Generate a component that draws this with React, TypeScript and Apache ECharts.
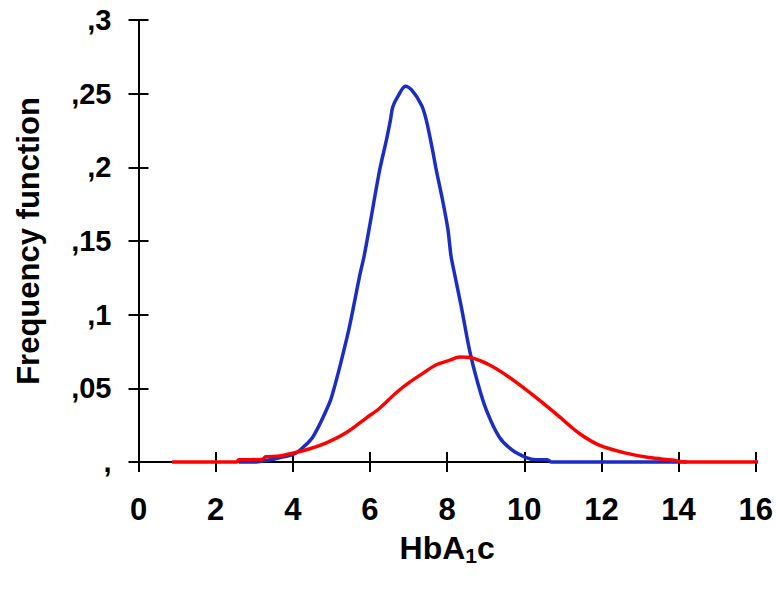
import React, { useEffect, useRef } from "react";
import * as echarts from "echarts";

const xTicks = [0, 2, 4, 6, 8, 10, 12, 14, 16];
const yTickLabels = [",", ",05", ",1", ",15", ",2", ",25", ",3"];

const blueX = [2.6, 3.0, 3.3, 3.67, 4.0, 4.18, 4.52, 4.95, 5.08, 5.26, 5.47, 5.73, 5.85, 5.99, 6.25, 6.43, 6.53, 6.59, 6.72, 6.92, 7.08, 7.34, 7.46, 7.62, 7.72, 7.88, 8.02, 8.1, 8.19, 8.37, 8.58, 8.79, 9.02, 9.35, 9.69, 10.05, 10.3, 10.6, 10.7, 14.2];
const blueY = [0, 0, 0.001, 0.003, 0.005, 0.008, 0.017, 0.04, 0.051, 0.069, 0.092, 0.126, 0.14, 0.16, 0.198, 0.219, 0.232, 0.241, 0.248, 0.255, 0.2525, 0.242, 0.232, 0.212, 0.198, 0.178, 0.158, 0.14, 0.128, 0.105, 0.076, 0.054, 0.035, 0.017, 0.008, 0.003, 0.0015, 0.0015, 0, 0];

const redX = [0.87, 2.55, 2.6, 3.2, 3.3, 3.66, 4.0, 4.44, 4.87, 5.39, 5.91, 6.25, 6.68, 7.02, 7.36, 7.72, 8.06, 8.32, 8.65, 9.09, 9.5, 9.95, 10.39, 10.9, 11.42, 11.94, 12.64, 13.23, 13.83, 14.2, 16.12];
const redY = [0, 0, 0.0015, 0.0017, 0.0035, 0.004, 0.006, 0.009, 0.013, 0.02, 0.03, 0.0365, 0.047, 0.054, 0.06, 0.066, 0.069, 0.0713, 0.0706, 0.066, 0.0595, 0.051, 0.042, 0.031, 0.0195, 0.0115, 0.006, 0.003, 0.0013, 0, 0];

const FONT = "Liberation Sans, Arial, sans-serif";

export default function App() {
  const ref = useRef<HTMLDivElement>(null);
  useEffect(() => {
    if (!ref.current) return;
    const chart = echarts.init(ref.current, null, { renderer: "svg" });
    const axisLineStyle = { color: "#000", width: 2 };
    const baseX = {
      type: "value" as const,
      min: xTicks[0],
      max: xTicks[xTicks.length - 1],
      interval: 2,
      position: "bottom" as const,
      offset: 0,
      splitLine: { show: false },
    };
    const baseY = {
      type: "value" as const,
      min: 0,
      max: 0.3,
      interval: 0.05,
      position: "left" as const,
      offset: 0,
      splitLine: { show: false },
    };
    chart.setOption({
      animation: false,
      backgroundColor: "#fff",
      grid: { left: 138.5, right: 19, top: 20, bottom: 132, containLabel: false },
      xAxis: [
        {
          ...baseX,
          axisLine: { show: true, onZero: false, lineStyle: axisLineStyle },
          axisTick: { show: true, inside: false, length: 10, lineStyle: axisLineStyle },
          axisLabel: {
            show: true,
            margin: 32,
            fontFamily: FONT,
            fontWeight: "bold",
            fontSize: 31,
            color: "#000",
          },
          name: "{a|HbA}{s|1}{a|c}",
          nameLocation: "middle",
          nameGap: 63,
          nameTextStyle: {
            rich: {
              a: { fontFamily: FONT, fontWeight: "bold", fontSize: 32, color: "#000", lineHeight: 38 },
              s: { fontFamily: FONT, fontWeight: "bold", fontSize: 21, color: "#000", lineHeight: 38, padding: [15, 0, 0, 0] },
            },
          },
        },
        {
          ...baseX,
          axisLine: { show: false },
          axisTick: { show: true, inside: true, length: 10, lineStyle: axisLineStyle },
          axisLabel: { show: false },
        },
      ],
      yAxis: [
        {
          ...baseY,
          axisLine: { show: true, onZero: false, lineStyle: axisLineStyle },
          axisTick: { show: true, inside: false, length: 10, lineStyle: axisLineStyle },
          axisLabel: {
            show: true,
            margin: 27,
            fontFamily: FONT,
            fontWeight: "bold",
            fontSize: 29,
            color: "#000",
            formatter: (v: number) => yTickLabels[Math.round(v / 0.05)] ?? "",
          },
          name: "Frequency function",
          nameLocation: "middle",
          nameGap: 95,
          nameTextStyle: { fontFamily: FONT, fontWeight: "bold", fontSize: 31, color: "#000" },
        },
        {
          ...baseY,
          axisLine: { show: false },
          axisTick: { show: true, inside: true, length: 10, lineStyle: axisLineStyle },
          axisLabel: { show: false },
        },
      ],
      series: [
        {
          type: "line",
          xAxisIndex: 0,
          yAxisIndex: 0,
          data: blueX.map((x, i) => [x, blueY[i]]),
          showSymbol: false,
          symbol: "none",
          smooth: 0.3,
          clip: false,
          lineStyle: { color: "#1c2dc2", width: 3.5 },
        },
        {
          type: "line",
          xAxisIndex: 0,
          yAxisIndex: 0,
          data: redX.map((x, i) => [x, redY[i]]),
          showSymbol: false,
          symbol: "none",
          smooth: 0.3,
          clip: false,
          lineStyle: { color: "#ff0000", width: 3.5 },
        },
      ],
    });
    return () => chart.dispose();
  }, []);
  return <div ref={ref} style={{ position: "fixed", left: 0, top: 0, width: 776, height: 594 }} />;
}
